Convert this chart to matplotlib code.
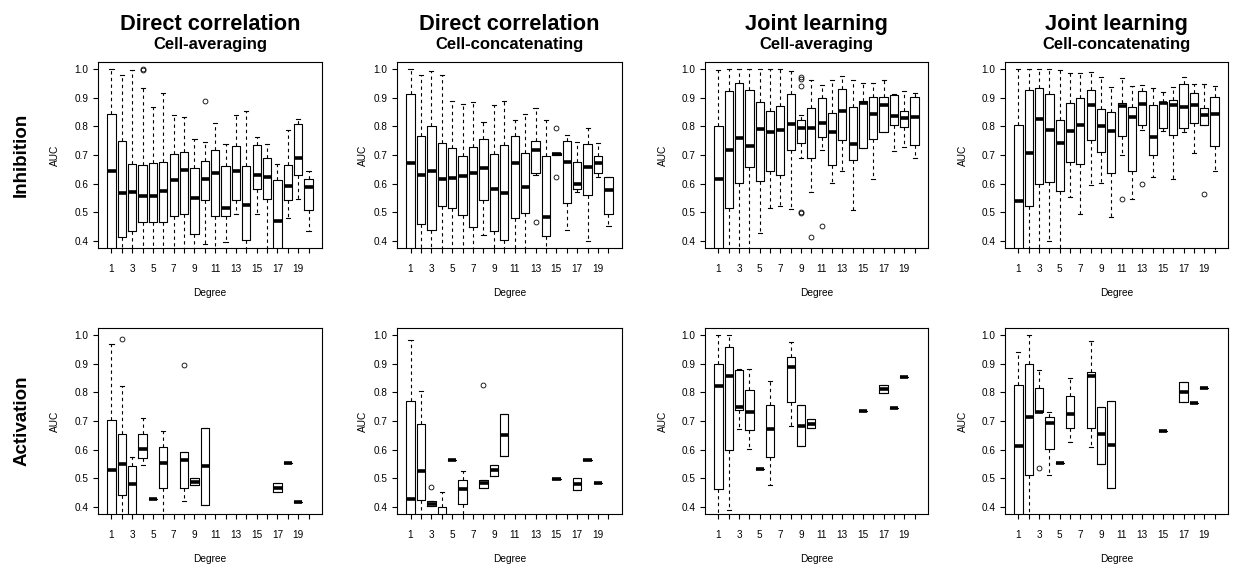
import matplotlib
matplotlib.use("Agg")
import matplotlib.pyplot as plt

plt.rcParams['font.family'] = ['Liberation Sans', 'DejaVu Sans']

W, H = 1236, 566

degrees = list(range(1, 21))
tick_labels = [str(d) if d % 2 else '' for d in degrees]
auc_ticks = [0.4, 0.5, 0.6, 0.7, 0.8, 0.9, 1.0]

col_titles = ['Direct correlation', 'Direct correlation', 'Joint learning', 'Joint learning']
col_subtitles = ['Cell-averaging', 'Cell-concatenating', 'Cell-averaging', 'Cell-concatenating']
row_labels = ['Inhibition', 'Activation']

# one entry per degree: (low whisker, Q1, median, Q3, high whisker)
# a single number = only one value, None = no data for that degree
dc_avg_inh = [
    (0.30, 0.36, 0.643, 0.844, 1.0), (0.33, 0.413, 0.566, 0.749, 0.98),
    (0.33, 0.434, 0.57, 0.67, 0.995), (0.33, 0.466, 0.556, 0.664, 0.933),
    (0.33, 0.466, 0.556, 0.672, 0.867), (0.33, 0.466, 0.573, 0.676, 0.916),
    (0.33, 0.489, 0.612, 0.703, 0.838), (0.33, 0.494, 0.647, 0.712, 0.834),
    (0.33, 0.424, 0.549, 0.655, 0.757), (0.389, 0.543, 0.615, 0.68, 0.747),
    (0.33, 0.488, 0.636, 0.719, 0.813), (0.398, 0.488, 0.517, 0.66, 0.74),
    (0.494, 0.542, 0.644, 0.733, 0.84), (0.33, 0.403, 0.525, 0.661, 0.855),
    (0.496, 0.583, 0.632, 0.736, 0.761), (0.33, 0.548, 0.623, 0.689, 0.738),
    (0.30, 0.36, 0.469, 0.613, 0.668), (0.479, 0.543, 0.592, 0.666, 0.786),
    (0.546, 0.631, 0.691, 0.807, 0.827), (0.434, 0.508, 0.588, 0.618, 0.645),
]
dc_avg_inh_out = {4: [0.997, 1.0], 10: [0.887]}

dc_cat_inh = [
    (0.30, 0.36, 0.672, 0.911, 1.0), (0.33, 0.46, 0.631, 0.766, 0.98),
    (0.33, 0.439, 0.643, 0.801, 0.994), (0.33, 0.524, 0.615, 0.743, 0.978),
    (0.33, 0.516, 0.62, 0.724, 0.887), (0.33, 0.491, 0.627, 0.695, 0.876),
    (0.33, 0.45, 0.639, 0.728, 0.884), (0.422, 0.543, 0.653, 0.757, 0.815),
    (0.33, 0.435, 0.582, 0.703, 0.873), (0.33, 0.403, 0.568, 0.735, 0.887),
    (0.33, 0.481, 0.672, 0.766, 0.821), (0.33, 0.498, 0.587, 0.708, 0.844),
    (0.631, 0.637, 0.719, 0.749, 0.865), (0.33, 0.417, 0.483, 0.695, 0.821),
    (0.70, 0.70, 0.705, 0.708, 0.708), (0.44, 0.532, 0.677, 0.749, 0.769),
    (0.572, 0.582, 0.599, 0.674, 0.746), (0.399, 0.562, 0.659, 0.738, 0.793),
    (0.623, 0.638, 0.671, 0.697, 0.743), (0.451, 0.495, 0.578, 0.624, 0.624),
]
dc_cat_inh_out = {13: [0.466], 15: [0.795, 0.622]}

jl_avg_inh = [
    (0.30, 0.36, 0.618, 0.801, 0.995), (0.33, 0.516, 0.718, 0.923, 1.0),
    (0.33, 0.601, 0.758, 0.951, 1.0), (0.33, 0.657, 0.733, 0.926, 1.0),
    (0.428, 0.608, 0.792, 0.884, 1.0), (0.516, 0.643, 0.781, 0.855, 1.0),
    (0.521, 0.629, 0.788, 0.871, 1.0), (0.512, 0.717, 0.809, 0.911, 0.994),
    (0.691, 0.743, 0.795, 0.822, 0.839), (0.57, 0.691, 0.795, 0.865, 0.961),
    (0.717, 0.761, 0.813, 0.899, 0.943), (0.602, 0.665, 0.781, 0.847, 0.961),
    (0.644, 0.754, 0.855, 0.931, 0.975), (0.509, 0.684, 0.738, 0.868, 0.96),
    (0.724, 0.724, 0.88, 0.888, 0.951), (0.618, 0.757, 0.842, 0.902, 0.951),
    (0.78, 0.78, 0.875, 0.902, 0.963), (0.713, 0.803, 0.835, 0.909, 0.914),
    (0.728, 0.799, 0.829, 0.855, 0.923), (0.691, 0.734, 0.831, 0.902, 0.916),
]
jl_avg_inh_out = {9: [0.966, 0.972, 0.94, 0.497, 0.503], 10: [0.414], 11: [0.452]}

jl_cat_inh = [
    (0.30, 0.36, 0.54, 0.805, 1.0), (0.33, 0.521, 0.706, 0.928, 1.0),
    (0.33, 0.599, 0.824, 0.934, 1.0), (0.40, 0.607, 0.786, 0.914, 1.0),
    (0.33, 0.575, 0.743, 0.821, 0.995), (0.553, 0.675, 0.783, 0.882, 0.986),
    (0.495, 0.668, 0.806, 0.897, 0.986), (0.597, 0.751, 0.873, 0.927, 0.99),
    (0.602, 0.709, 0.80, 0.862, 0.971), (0.483, 0.639, 0.783, 0.851, 0.936),
    (0.699, 0.765, 0.869, 0.882, 0.969), (0.547, 0.645, 0.832, 0.868, 0.94),
    (0.786, 0.805, 0.879, 0.923, 0.943), (0.622, 0.701, 0.761, 0.873, 0.932),
    (0.783, 0.795, 0.881, 0.886, 0.92), (0.618, 0.769, 0.873, 0.892, 0.936),
    (0.78, 0.793, 0.868, 0.946, 0.972), (0.706, 0.813, 0.873, 0.917, 0.948),
    (0.806, 0.806, 0.838, 0.865, 0.948), (0.643, 0.732, 0.844, 0.902, 0.94),
]
jl_cat_inh_out = {11: [0.547], 13: [0.599], 19: [0.564]}

dc_avg_act = [
    (0.30, 0.36, 0.528, 0.702, 0.968), (0.33, 0.443, 0.549, 0.653, 0.823),
    (0.33, 0.36, 0.48, 0.543, 0.575), (0.547, 0.572, 0.601, 0.655, 0.709),
    0.43, (0.33, 0.465, 0.555, 0.609, 0.665), None,
    (0.42, 0.467, 0.563, 0.592, 0.592), (0.477, 0.477, 0.489, 0.501, 0.501),
    (0.409, 0.409, 0.543, 0.674, 0.674), None, None, None, None, None, None,
    (0.451, 0.451, 0.468, 0.484, 0.484), 0.555, 0.417, None,
]
dc_avg_act_out = {2: [0.986], 8: [0.896]}

dc_cat_act = [
    (0.30, 0.36, 0.427, 0.771, 0.983), (0.33, 0.424, 0.526, 0.69, 0.803),
    (0.405, 0.405, 0.41, 0.422, 0.422), (0.35, 0.36, 0.37, 0.401, 0.453),
    0.563, (0.37, 0.41, 0.462, 0.494, 0.526), None,
    (0.466, 0.466, 0.483, 0.495, 0.495), (0.509, 0.509, 0.528, 0.547, 0.547),
    (0.578, 0.578, 0.65, 0.723, 0.723), None, None, None, None, 0.497, None,
    (0.46, 0.46, 0.481, 0.501, 0.501), 0.563, 0.483, None,
]
dc_cat_act_out = {3: [0.47], 8: [0.827]}

jl_avg_act = [
    (0.30, 0.462, 0.823, 0.898, 0.998), (0.391, 0.599, 0.858, 0.958, 1.0),
    (0.671, 0.738, 0.749, 0.879, 0.881), (0.601, 0.667, 0.732, 0.807, 0.882),
    0.534, (0.477, 0.575, 0.673, 0.755, 0.838), None,
    (0.682, 0.766, 0.888, 0.923, 0.975), (0.613, 0.613, 0.684, 0.755, 0.755),
    (0.676, 0.676, 0.69, 0.708, 0.708), None, None, None, None, 0.736, None,
    (0.798, 0.798, 0.812, 0.824, 0.824), 0.746, 0.853, None,
]
jl_avg_act_out = {}

jl_cat_act = [
    (0.30, 0.36, 0.614, 0.827, 0.941), (0.33, 0.511, 0.714, 0.899, 1.0),
    (0.733, 0.733, 0.733, 0.815, 0.876), (0.511, 0.603, 0.694, 0.713, 0.731),
    0.555, (0.627, 0.676, 0.725, 0.788, 0.85), None,
    (0.61, 0.676, 0.858, 0.869, 0.979), (0.551, 0.551, 0.653, 0.749, 0.749),
    (0.465, 0.465, 0.617, 0.771, 0.771), None, None, None, None, 0.665, None,
    (0.765, 0.765, 0.802, 0.836, 0.836), 0.763, 0.815, None,
]
jl_cat_act_out = {3: [0.535]}

panels = [
    [(dc_avg_inh, dc_avg_inh_out), (dc_cat_inh, dc_cat_inh_out),
     (jl_avg_inh, jl_avg_inh_out), (jl_cat_inh, jl_cat_inh_out)],
    [(dc_avg_act, dc_avg_act_out), (dc_cat_act, dc_cat_act_out),
     (jl_avg_act, jl_avg_act_out), (jl_cat_act, jl_cat_act_out)],
]

# plot boxes in pixels
col_x = [(98, 322), (397, 622), (705, 928), (1005, 1228)]
row_y = [(62, 248), (328, 514)]
auc_offset = [43, 34, 42, 42]


def to_stats(boxes, outliers):
    stats, pos = [], []
    for d, b in zip(degrees, boxes):
        if b is None:
            continue
        if isinstance(b, float):
            b = (b, b, b, b, b)
        lo, q1, med, q3, hi = b
        stats.append(dict(whislo=lo, q1=q1, med=med, q3=q3, whishi=hi,
                          fliers=outliers.get(d, [])))
        pos.append(d)
    return stats, pos


fig = plt.figure(figsize=(W / 100, H / 100), dpi=100)

for r, (y0, y1) in enumerate(row_y):
    for c, (x0, x1) in enumerate(col_x):
        ax = fig.add_axes([x0 / W, 1 - y1 / H, (x1 - x0) / W, (y1 - y0) / H])
        boxes, outliers = panels[r][c]
        stats, pos = to_stats(boxes, outliers)
        ax.bxp(stats, positions=pos, widths=0.8, capwidths=0.4,
               boxprops=dict(color='black', linewidth=0.8),
               medianprops=dict(color='black', linewidth=2.6, solid_capstyle='butt'),
               whiskerprops=dict(color='black', linewidth=0.8, linestyle=(0, (3, 3))),
               capprops=dict(color='black', linewidth=0.8),
               flierprops=dict(marker='o', markerfacecolor='none', markeredgecolor='black',
                               markersize=3.5, markeredgewidth=0.6))
        ax.set_xlim(-0.3, 21.3)
        ax.set_ylim(0.376, 1.024)
        ax.set_xticks(degrees)
        ax.set_xticklabels(tick_labels)
        ax.set_yticks(auc_ticks)
        ax.set_yticklabels(['%.1f' % t for t in auc_ticks])
        ax.tick_params(axis='both', direction='out', length=3.6, width=0.8, labelsize=7.2)
        ax.tick_params(axis='x', pad=8)
        ax.tick_params(axis='y', pad=3.5)
        for s in ax.spines.values():
            s.set_linewidth(0.8)
        h = y1 - y0
        w = x1 - x0
        ax.text(0.5, -45 / h, 'Degree', transform=ax.transAxes, ha='center', va='center', fontsize=7.3)
        ax.text(-auc_offset[c] / w, 0.5, 'AUC', transform=ax.transAxes, rotation=90,
                ha='center', va='center', fontsize=7.3)

for c, (x0, x1) in enumerate(col_x):
    xc = (x0 + x1) / 2 / W
    fig.text(xc, 1 - 30 / H, col_titles[c], ha='center', va='baseline',
             fontsize=15.7, fontweight='bold')
    fig.text(xc, 1 - 49 / H, col_subtitles[c], ha='center', va='baseline',
             fontsize=12, fontweight='bold')

for r, (y0, y1) in enumerate(row_y):
    fig.text(21.7 / W, 1 - (y0 + y1) / 2 / H, row_labels[r], rotation=90,
             ha='center', va='center', fontsize=13.5, fontweight='bold')

fig.savefig('out.png', dpi=100)
